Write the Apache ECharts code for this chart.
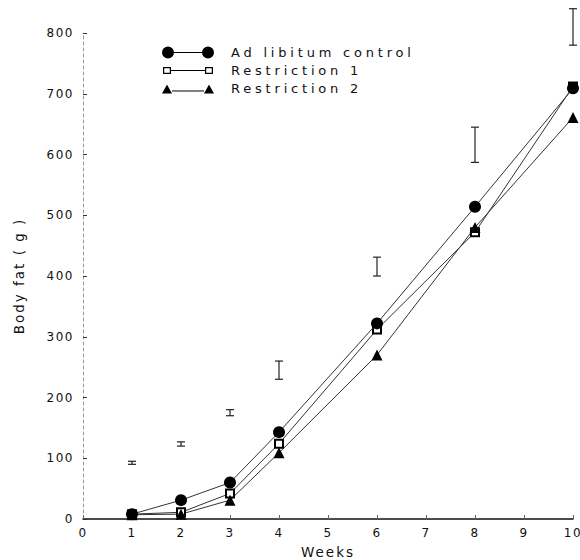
<!DOCTYPE html>
<html>
<head>
<meta charset="utf-8">
<script src="https://cdn.jsdelivr.net/npm/echarts@6/dist/echarts.min.js"></script>
<style>
  html, body { margin: 0; padding: 0; background: #fff; }
  #chart { width: 580px; height: 560px; }
  #chart text { letter-spacing: 1.5px; }
  #chart text[style*="13px"] { letter-spacing: 3.8px; }
  #chart text[style*="13.5px"] { letter-spacing: 2px; }
</style>
</head>
<body>
<div id="chart"></div>
<script>
// ---- data ----
const weeks = [1, 2, 3, 4, 6, 8, 10];
const adLibitum = [8, 31, 60, 143, 322, 514, 709];
const restriction1 = [8, 11, 42, 124, 312, 472, 712];
const restriction2 = [7, 8, 31, 109, 270, 480, 661];
const errLow = [90, 120, 170, 230, 400, 587, 780];
const errHigh = [95, 127, 180, 260, 431, 645, 840];
const seriesNames = ['Ad libitum control', 'Restriction 1', 'Restriction 2'];
const xTicks = [0, 10, 1];   // min, max, interval
const yTicks = [0, 800, 100];

const FONT = 'DejaVu Sans';
const pair = (xs, ys) => xs.map((x, i) => [x, ys[i]]);

// legend icons (52 x 12 boxes)
const iconCircle = 'path://M0,6 A6,6 0 1,1 12,6 A6,6 0 1,1 0,6 Z M12,5.5 L40,5.5 L40,6.5 L12,6.5 Z M40,6 A6,6 0 1,1 52,6 A6,6 0 1,1 40,6 Z';
const iconSquare = 'path://M0,0 L52,0 L52,0.01 L0,0.01 Z M0,11.99 L52,11.99 L52,12 L0,12 Z ' +
  'M1,2.5 L9,2.5 L9,9.5 L1,9.5 Z M2.2,3.7 L2.2,8.3 L7.8,8.3 L7.8,3.7 Z ' +
  'M9,5.5 L43,5.5 L43,6.5 L9,6.5 Z ' +
  'M43,2.5 L51,2.5 L51,9.5 L43,9.5 Z M44.2,3.7 L44.2,8.3 L49.8,8.3 L49.8,3.7 Z';
const iconTriangle = 'path://M0,0 L52,0 L52,0.01 L0,0.01 Z M0,11.99 L52,11.99 L52,12 L0,12 Z ' +
  'M0,11 L5,2 L10,11 Z M10,8 L42,8 L42,9 L10,9 Z M42,11 L47,2 L52,11 Z';

const chart = echarts.init(document.getElementById('chart'), null, { renderer: 'svg' });

const option = {
  backgroundColor: '#fff',
  animation: false,
  textStyle: { fontFamily: FONT, color: '#111' },
  grid: { left: 83, right: 7, top: 33, bottom: 41, containLabel: false, outerBoundsMode: 'none' },
  legend: {
    orient: 'vertical',
    left: 157,
    top: 41,
    itemWidth: 52,
    itemHeight: 12,
    itemGap: 5,
    textStyle: { fontFamily: FONT, fontSize: 13, color: '#111', padding: [0, 0, 0, 12] },
    itemStyle: { borderWidth: 0 },
    data: [
      { name: seriesNames[0], icon: iconCircle, itemStyle: { color: '#000', borderWidth: 0 } },
      { name: seriesNames[1], icon: iconSquare, itemStyle: { color: '#000', borderWidth: 0 } },
      { name: seriesNames[2], icon: iconTriangle, itemStyle: { color: '#000', borderWidth: 0 } }
    ]
  },
  xAxis: {
    type: 'value',
    min: xTicks[0], max: xTicks[1], interval: xTicks[2],
    name: 'Weeks',
    nameLocation: 'middle',
    nameGap: 26,
    nameTextStyle: { fontFamily: FONT, fontSize: 13.5, color: '#111' },
    axisLine: { show: true, lineStyle: { color: '#111', width: 1.6 } },
    axisTick: { show: true, inside: true, length: 4, lineStyle: { color: '#666', width: 1 } },
    axisLabel: { fontFamily: FONT, fontSize: 12, color: '#111', margin: 8 },
    splitLine: { show: false }
  },
  yAxis: {
    type: 'value',
    min: yTicks[0], max: yTicks[1], interval: yTicks[2],
    name: 'Body fat ( g )',
    nameLocation: 'middle',
    nameGap: 57,
    nameTextStyle: { fontFamily: FONT, fontSize: 13.5, color: '#111' },
    axisLine: { show: true, lineStyle: { color: '#999', width: 1, type: [3, 3] } },
    axisTick: { show: true, inside: true, length: 4, lineStyle: { color: '#333', width: 1 } },
    axisLabel: { fontFamily: FONT, fontSize: 12, color: '#111', margin: 9 },
    splitLine: { show: false }
  },
  series: [
    {
      name: 'SE',
      type: 'custom',
      clip: false,
      silent: true,
      data: weeks.map((w, i) => [w, errLow[i], errHigh[i]]),
      renderItem: function (params, api) {
        const lo = api.coord([api.value(0), api.value(1)]);
        const hi = api.coord([api.value(0), api.value(2)]);
        const hw = 4;
        const st = { stroke: '#222', lineWidth: 1.2 };
        return {
          type: 'group',
          children: [
            { type: 'line', shape: { x1: lo[0], y1: lo[1], x2: hi[0], y2: hi[1] }, style: st },
            { type: 'line', shape: { x1: lo[0] - hw, y1: lo[1], x2: lo[0] + hw, y2: lo[1] }, style: st },
            { type: 'line', shape: { x1: hi[0] - hw, y1: hi[1], x2: hi[0] + hw, y2: hi[1] }, style: st }
          ]
        };
      },
      z: 1
    },
    {
      name: seriesNames[0],
      type: 'line',
      data: pair(weeks, adLibitum),
      symbol: 'circle',
      symbolSize: 12,
      color: '#000',
      itemStyle: { color: '#000' },
      lineStyle: { color: '#333', width: 1 },
      clip: false,
      z: 4
    },
    {
      name: seriesNames[1],
      type: 'line',
      data: pair(weeks, restriction1),
      symbol: 'emptyRect',
      symbolSize: 8,
      color: '#000',
      itemStyle: { color: '#000', borderWidth: 1.2 },
      lineStyle: { color: '#333', width: 1 },
      clip: false,
      z: 3
    },
    {
      name: seriesNames[2],
      type: 'line',
      data: pair(weeks, restriction2),
      symbol: 'triangle',
      symbolSize: 11,
      color: '#000',
      itemStyle: { color: '#000' },
      lineStyle: { color: '#333', width: 1 },
      clip: false,
      z: 3
    }
  ]
};
chart.setOption(option);
</script>
</body>
</html>
